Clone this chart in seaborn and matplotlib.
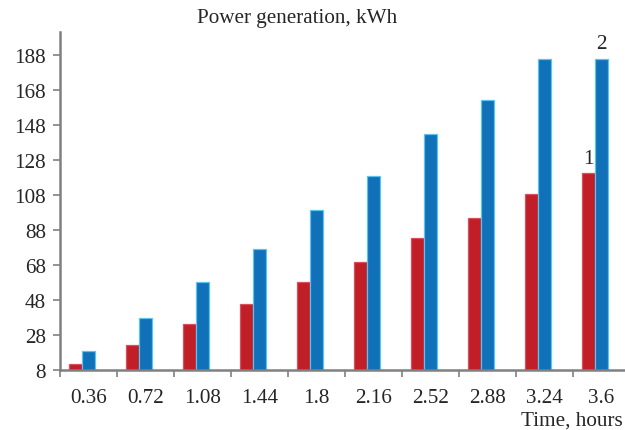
import matplotlib
matplotlib.use("Agg")
import matplotlib.pyplot as plt
import seaborn as sns
import pandas as pd
import numpy as np

time_labels = ["0.36", "0.72", "1.08", "1.44", "1.8", "2.16", "2.52", "2.88", "3.24", "3.6"]
series1 = [11.4, 22.3, 34.3, 45.7, 58.3, 69.5, 83.6, 94.9, 108.6, 120.7]
series2 = [18.9, 37.7, 58.3, 77.1, 99.4, 118.9, 142.9, 162.3, 185.9, 185.9]
y_ticks = [8, 28, 48, 68, 88, 108, 128, 148, 168, 188]

df = pd.DataFrame({
    "time": time_labels * 2,
    "value": series1 + series2,
    "series": ["1"] * len(series1) + ["2"] * len(series2),
})

sns.set_style("white")
plt.rcParams["font.family"] = ["Liberation Serif", "DejaVu Serif"]

fig = plt.figure(figsize=(6.25, 4.31), dpi=100)
ax = fig.add_axes([60 / 625, (431 - 371) / 431, 1 - 60 / 625, (371 - 33) / 431])

red = "#C01F28"
blue = "#1070B8"
sns.barplot(data=df, x="time", y="value", hue="series", order=time_labels,
            palette={"1": red, "2": blue}, width=0.46, ax=ax, legend=False,
            saturation=1)

for p in ax.patches:
    fc = p.get_facecolor()
    if fc[2] > 0.5:
        p.set_edgecolor("#5CC3EE")
    else:
        p.set_edgecolor("#D9505A")
    p.set_linewidth(0.9)

fs = 15.2
off = 6.8 / 57
n = len(time_labels)
ax.set_xlim(-0.5 + off, -0.5 + off + 565 / 57)
ax.set_ylim(8, 8 + 338 / 1.75)
ax.set_xticks(np.arange(n) + off)
ax.set_xticklabels(time_labels, fontsize=fs)
ax.set_xticks(np.arange(n) - 0.5 + off, minor=True)
ax.tick_params(axis="x", which="major", length=0, pad=13)
ax.tick_params(axis="x", which="minor", length=5, width=1.2, color="#808080", direction="out", bottom=True)
ax.set_yticks(y_ticks)
ax.set_yticklabels([str(v) for v in y_ticks], fontsize=fs)
ax.tick_params(axis="y", length=5, width=1.2, color="#808080", direction="out", left=True, pad=5)
ax.set_xlabel("")
ax.set_ylabel("")

for s in ["top", "right"]:
    ax.spines[s].set_visible(False)
for s in ["left", "bottom"]:
    ax.spines[s].set_color("#808080")
    ax.spines[s].set_linewidth(1.8)

fig.text(297 / 625, 1 - 18 / 431, "Power generation, kWh", ha="center", va="center", fontsize=fs)
fig.text(623 / 625, 1 - 421 / 431, "Time, hours", ha="right", va="center", fontsize=fs)
ax.text(9 - 0.115, series1[-1] + 3, "1", ha="center", va="bottom", fontsize=fs)
ax.text(9 + 0.115, series2[-1] + 3, "2", ha="center", va="bottom", fontsize=fs)

fig.savefig("out.png", dpi=100)
